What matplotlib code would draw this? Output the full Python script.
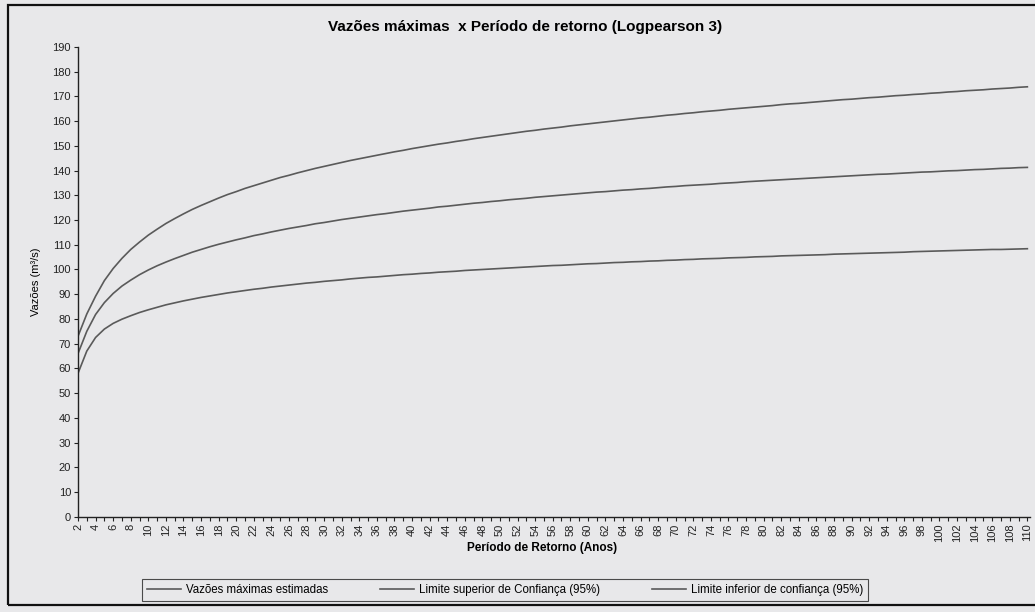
import matplotlib
matplotlib.use("Agg")
import matplotlib.pyplot as plt
from matplotlib.patches import Rectangle

plt.rcParams['font.family'] = ['Liberation Sans', 'DejaVu Sans']

# periodo de retorno (anos)
periodo = list(range(2, 111))

# vazoes maximas estimadas (m3/s)
estimada = [66.0, 75.0, 81.8, 86.6, 90.3, 93.3, 95.7, 97.9, 99.8, 101.5,
            103.0, 104.4, 105.7, 107.0, 108.1, 109.2, 110.2, 111.1, 112.0, 112.8,
            113.7, 114.4, 115.2, 115.9, 116.6, 117.2, 117.8, 118.5, 119.0, 119.6,
            120.2, 120.7, 121.2, 121.7, 122.2, 122.6, 123.1, 123.6, 124.0, 124.4,
            124.8, 125.3, 125.6, 126.0, 126.4, 126.8, 127.1, 127.5, 127.8, 128.2,
            128.5, 128.8, 129.2, 129.5, 129.8, 130.1, 130.4, 130.7, 131.0, 131.3,
            131.5, 131.8, 132.1, 132.3, 132.6, 132.8, 133.1, 133.4, 133.6, 133.9,
            134.1, 134.3, 134.5, 134.8, 135.0, 135.2, 135.5, 135.7, 135.9, 136.1,
            136.3, 136.5, 136.7, 136.9, 137.1, 137.3, 137.5, 137.7, 137.9, 138.1,
            138.3, 138.5, 138.6, 138.8, 139.0, 139.2, 139.4, 139.5, 139.7, 139.9,
            140.0, 140.2, 140.4, 140.5, 140.7, 140.9, 141.0, 141.2, 141.3]

# limite superior de confianca (95%)
superior = [73.0, 82.0, 89.2, 95.5, 100.4, 104.5, 108.1, 111.1, 113.9, 116.3,
            118.6, 120.6, 122.5, 124.3, 125.9, 127.4, 128.9, 130.3, 131.5, 132.8,
            133.9, 135.0, 136.1, 137.2, 138.1, 139.1, 140.0, 140.9, 141.7, 142.5,
            143.3, 144.1, 144.8, 145.5, 146.2, 146.9, 147.6, 148.2, 148.9, 149.5,
            150.1, 150.7, 151.2, 151.8, 152.3, 152.9, 153.4, 153.9, 154.4, 154.9,
            155.4, 155.9, 156.3, 156.8, 157.2, 157.6, 158.1, 158.5, 158.9, 159.3,
            159.7, 160.1, 160.5, 160.9, 161.3, 161.6, 162.0, 162.4, 162.7, 163.1,
            163.4, 163.8, 164.1, 164.4, 164.8, 165.1, 165.4, 165.7, 166.0, 166.3,
            166.7, 167.0, 167.2, 167.5, 167.8, 168.1, 168.4, 168.7, 168.9, 169.2,
            169.5, 169.7, 170.0, 170.3, 170.5, 170.8, 171.0, 171.3, 171.5, 171.8,
            172.0, 172.3, 172.5, 172.7, 173.0, 173.2, 173.4, 173.7, 173.9]

# limite inferior de confianca (95%)
inferior = [58.0, 67.0, 72.5, 75.9, 78.2, 79.9, 81.3, 82.6, 83.7, 84.7,
            85.7, 86.5, 87.3, 88.0, 88.7, 89.3, 89.9, 90.5, 91.0, 91.5,
            92.0, 92.4, 92.9, 93.3, 93.7, 94.1, 94.5, 94.8, 95.2, 95.5,
            95.8, 96.2, 96.5, 96.8, 97.0, 97.3, 97.6, 97.9, 98.1, 98.4,
            98.6, 98.9, 99.1, 99.3, 99.6, 99.8, 100.0, 100.2, 100.4, 100.6,
            100.8, 101.0, 101.2, 101.4, 101.6, 101.7, 101.9, 102.1, 102.3, 102.4,
            102.6, 102.8, 102.9, 103.1, 103.2, 103.4, 103.5, 103.7, 103.8, 104.0,
            104.1, 104.3, 104.4, 104.5, 104.7, 104.8, 104.9, 105.1, 105.2, 105.3,
            105.5, 105.6, 105.7, 105.8, 105.9, 106.0, 106.2, 106.3, 106.4, 106.5,
            106.6, 106.7, 106.8, 106.9, 107.0, 107.2, 107.3, 107.4, 107.5, 107.6,
            107.7, 107.8, 107.9, 108.0, 108.1, 108.1, 108.2, 108.3, 108.4]

bg = '#e8e8ea'
cor = '#5a5a5a'

fig = plt.figure(figsize=(10.35, 6.12), dpi=100, facecolor=bg)
ax = fig.add_axes([78/1035, 1-516.7/612, (1030-78)/1035, (516.7-47)/612])
ax.set_facecolor(bg)

ax.plot(periodo, estimada, color=cor, lw=1.2, label='Vazões máximas estimadas')
ax.plot(periodo, superior, color=cor, lw=1.2, label='Limite superior de Confiança (95%)')
ax.plot(periodo, inferior, color=cor, lw=1.2, label='Limite inferior de confiança (95%)')

ax.set_xlim(2, 110.3)
ax.set_ylim(0, 190)
ax.set_yticks(range(0, 191, 10))
ax.set_xticks(periodo)
ax.set_xticklabels([str(t) if t % 2 == 0 else '' for t in periodo], rotation=90)
ax.tick_params(axis='both', labelsize=8, length=3, width=0.8, colors='#222222', pad=2)

for s in ['top', 'right']:
    ax.spines[s].set_visible(False)
for s in ['left', 'bottom']:
    ax.spines[s].set_color('#222222')
    ax.spines[s].set_linewidth(1.0)

ax.set_ylabel('Vazões (m³/s)', fontsize=8, labelpad=8)
fig.text(542/1035, 1-548/612, 'Período de Retorno (Anos)', fontsize=8.5,
         fontweight='bold', ha='center', va='center')
fig.text(525/1035, 1-27/612, 'Vazões máximas  x Período de retorno (Logpearson 3)',
         fontsize=11, fontweight='bold', ha='center', va='center')

leg = fig.legend(loc='center', bbox_to_anchor=(505/1035, 1-590/612), ncol=3,
                 fontsize=8.3, frameon=True, fancybox=False, handlelength=3,
                 columnspacing=4.5, borderpad=0.4, borderaxespad=0,
                 handletextpad=0.4)
leg.get_frame().set_edgecolor('#222222')
leg.get_frame().set_facecolor(bg)
leg.get_frame().set_linewidth(0.8)

# moldura do grafico
fig.patches.append(Rectangle((8/1035, 1-605/612), 1.1, (605-5)/612,
                             transform=fig.transFigure, fill=False,
                             edgecolor='#111111', lw=1.6))

fig.savefig('out.png', dpi=100, facecolor=bg)
